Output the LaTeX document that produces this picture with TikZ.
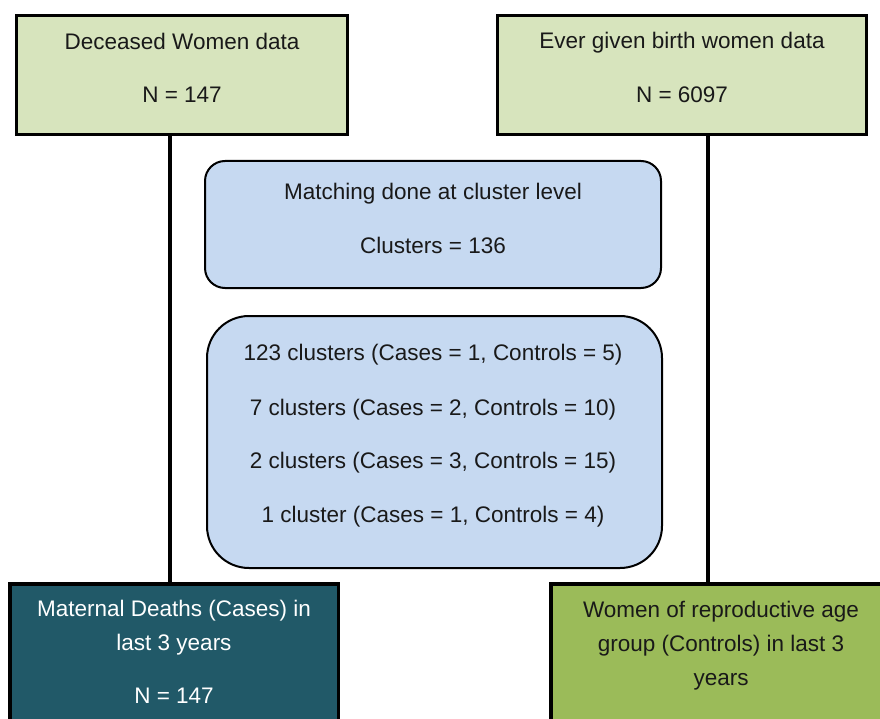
\documentclass[tikz,border=0pt]{standalone}
\usepackage{fontspec}
\setmainfont{Liberation Sans}
\definecolor{palegreen}{HTML}{D7E4BD}
\definecolor{paleblue}{HTML}{C6D9F1}
\definecolor{darkteal}{HTML}{215968}
\definecolor{olivegreen}{HTML}{9BBB59}
\begin{document}
\begin{tikzpicture}[x=1pt,y=-1pt,
  every node/.style={font=\fontsize{22.5}{27}\selectfont, inner sep=0pt, outer sep=0pt},
  databox/.style={draw=black, line width=3.5pt, rectangle},
  roundbox/.style={draw=black, line width=2pt, fill=paleblue, rectangle},
  txt/.style={anchor=base, text=black!90},
  link/.style={draw=black, line width=4pt}]
\useasboundingbox (0,0) rectangle (880,719);

% source data boxes
\node[databox, fill=palegreen, minimum width=331pt, minimum height=119pt] (dec) at (182,75) {};
\node[databox, fill=palegreen, minimum width=369pt, minimum height=119pt] (ever) at (682,75) {};

% outcome boxes (run off the lower edge)
\node[databox, fill=darkteal, minimum width=328.5pt, minimum height=176pt] (mat) at (174.25,672) {};
\node[databox, fill=olivegreen, minimum width=344pt, minimum height=176pt] (wom) at (723,672) {};

% connectors
\coordinate (lx) at (169.5,0);
\coordinate (rx) at (707.5,0);
\draw[link] (dec.south -| lx) -- (mat.north -| lx);
\draw[link] (ever.south -| rx) -- (wom.north -| rx);

% matching boxes
\node[roundbox, rounded corners=20pt, minimum width=456pt, minimum height=127pt] (match) at (433,224.5) {};
\node[roundbox, rounded corners=42pt, minimum width=455pt, minimum height=252pt] (clus) at (434.5,442) {};

% texts
\node[txt] (dec1) at (182,49.5) {Deceased Women data};
\node[txt] (dec2) at (182,103) {N = 147};
\node[txt] (ever1) at (682,49) {Ever given birth women data};
\node[txt] (ever2) at (682,103) {N = 6097};
\node[txt] (m1) at (433,200) {Matching done at cluster level};
\node[txt] (m2) at (433,254) {Clusters = 136};
\node[txt] (c1) at (433,360.7) {123 clusters (Cases = 1, Controls = 5)};
\node[txt] (c2) at (433,415) {7 clusters (Cases = 2, Controls = 10)};
\node[txt] (c3) at (433,468.3) {2 clusters (Cases = 3, Controls = 15)};
\node[txt] (c4) at (433,522.3) {1 cluster (Cases = 1, Controls = 4)};
\node[txt, text=white] (mat1) at (174,616) {Maternal Deaths (Cases) in};
\node[txt, text=white] (mat2) at (174,650) {last 3 years};
\node[txt, text=white] (mat3) at (174,703.3) {N = 147};
\node[txt] (w1) at (721,617.5) {Women of reproductive age};
\node[txt] (w2) at (721,651.5) {group (Controls) in last 3};
\node[txt] (w3) at (721,685) {years};
\end{tikzpicture}
\end{document}
